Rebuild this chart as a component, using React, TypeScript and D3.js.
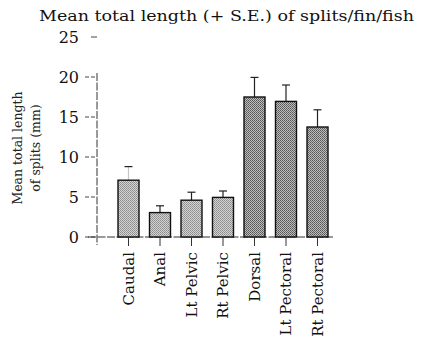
import React from "react";
import * as d3 from "d3";

const categories = ["Caudal", "Anal", "Lt Pelvic", "Rt Pelvic", "Dorsal", "Lt Pectoral", "Rt Pectoral"];
const means = [7.1, 3.05, 4.6, 4.95, 17.5, 16.95, 13.75];
const upperSE = [8.8, 3.9, 5.6, 5.75, 19.95, 19.0, 15.9];
const shade = ["light", "light", "light", "light", "dark", "dark", "dark"];
const yTicks = [0, 5, 10, 15, 20, 25];

const W = 423, H = 359;

export default function App() {
  const y = d3.scaleLinear().domain([0, 25]).range([237, 37]);
  const x = d3.scalePoint<string>().domain(categories).range([128.5, 317.5]);
  const bw = 21;
  const axisX = 97;
  const font = "'DejaVu Serif', serif";
  return (
    <svg width={W} height={H} style={{ position: "absolute", left: 0, top: 0, background: "#fff" }}>
      <defs>
        <pattern id="pl" width="2" height="2" patternUnits="userSpaceOnUse">
          <rect width="2" height="2" fill="#d4d4d4" />
          <rect width="1" height="1" fill="#8a8a8a" />
          <rect x="1" y="1" width="1" height="1" fill="#9a9a9a" />
        </pattern>
        <pattern id="pd" width="2" height="2" patternUnits="userSpaceOnUse">
          <rect width="2" height="2" fill="#bdbdbd" />
          <rect width="1" height="1" fill="#555" />
          <rect x="1" y="1" width="1" height="1" fill="#6a6a6a" />
        </pattern>
      </defs>
      <text x={39} y={21} fontFamily={font} fontSize={15} fill="#111" textLength={375} lengthAdjust="spacingAndGlyphs">
        Mean total length (+ S.E.) of splits/fin/fish
      </text>
      {/* y axis title */}
      <g transform={`translate(22,148) rotate(-90)`}>
        <text textAnchor="middle" fontFamily={font} fontSize={12.5} fill="#222">Mean total length</text>
      </g>
      <g transform={`translate(40,148) rotate(-90)`}>
        <text textAnchor="middle" fontFamily={font} fontSize={12.5} fill="#222">of splits (mm)</text>
      </g>
      {/* y axis */}
      <line x1={axisX} x2={axisX} y1={y(20) - 4} y2={245} stroke="#333" strokeWidth={1} strokeDasharray="8 1.5" />
      {yTicks.map((t) => (
        <g key={t}>
          <line x1={t === 25 ? 91 : 85} x2={axisX} y1={y(t)} y2={y(t)} stroke="#444" strokeWidth={1} strokeDasharray={t === 25 ? "" : "4 2"} />
          <text x={79} y={y(t)} dy="0.36em" textAnchor="end" fontFamily={font} fontSize={16} fill="#111">{t}</text>
        </g>
      ))}
      {/* baseline */}
      <line x1={88} x2={333} y1={y(0)} y2={y(0)} stroke="#333" strokeWidth={1} strokeDasharray="8 1.5" />
      {/* bars */}
      {categories.map((c, i) => {
        const cx = x(c)!;
        return (
          <g key={c}>
            <line x1={cx} x2={cx} y1={y(means[i])} y2={y(upperSE[i])} stroke="#222" strokeWidth={1.2} opacity={i === 0 ? 0.25 : 1} />
            <line x1={cx - 4} x2={cx + 4} y1={y(upperSE[i])} y2={y(upperSE[i])} stroke="#222" strokeWidth={1.2} />
            <rect x={cx - bw / 2} y={y(means[i])} width={bw} height={y(0) - y(means[i])}
              fill={shade[i] === "dark" ? "url(#pd)" : "url(#pl)"} stroke="#111" strokeWidth={1.4} />
            <line x1={cx} x2={cx} y1={y(0)} y2={y(0) + 9} stroke="#333" strokeWidth={1} />
            <g transform={`translate(${cx},252) rotate(-90)`}>
              <text textAnchor="end" dy="0.35em" fontFamily={font} fontSize={15} fill="#111">{c}</text>
            </g>
          </g>
        );
      })}
    </svg>
  );
}
